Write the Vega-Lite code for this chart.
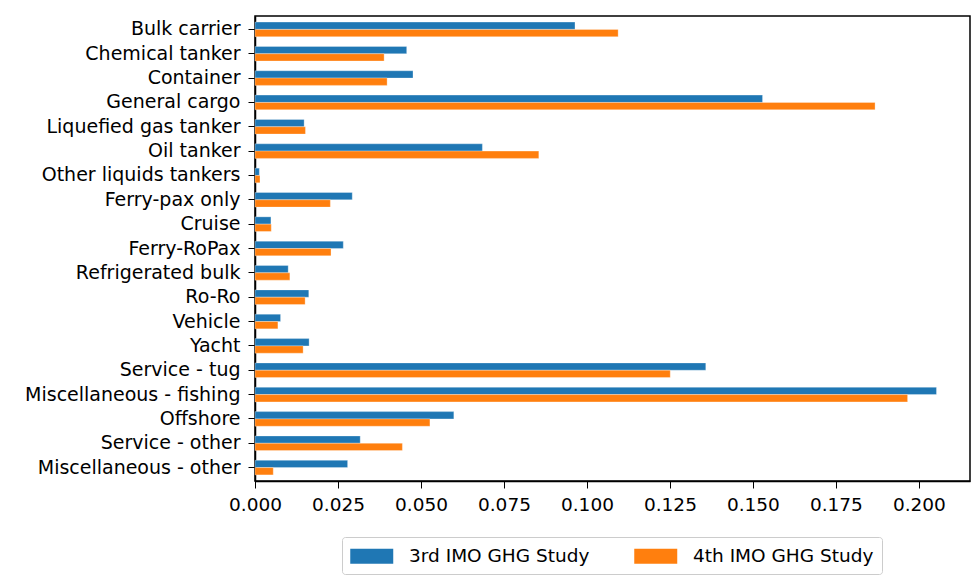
{
  "$schema": "https://vega.github.io/schema/vega-lite/v6.json",
  "autosize": {"type": "none"},
  "padding": {"left": 255, "top": 16, "right": 3, "bottom": 105},
  "width": 715,
  "height": 465,
  "background": "white",
  "data": {
    "values": [
      {"ship": "Bulk carrier", "study": "3rd IMO GHG Study", "value": 0.0964},
      {"ship": "Bulk carrier", "study": "4th IMO GHG Study", "value": 0.1094},
      {"ship": "Chemical tanker", "study": "3rd IMO GHG Study", "value": 0.0457},
      {"ship": "Chemical tanker", "study": "4th IMO GHG Study", "value": 0.0389},
      {"ship": "Container", "study": "3rd IMO GHG Study", "value": 0.0476},
      {"ship": "Container", "study": "4th IMO GHG Study", "value": 0.0398},
      {"ship": "General cargo", "study": "3rd IMO GHG Study", "value": 0.1529},
      {"ship": "General cargo", "study": "4th IMO GHG Study", "value": 0.1868},
      {"ship": "Liquefied gas tanker", "study": "3rd IMO GHG Study", "value": 0.0148},
      {"ship": "Liquefied gas tanker", "study": "4th IMO GHG Study", "value": 0.0152},
      {"ship": "Oil tanker", "study": "3rd IMO GHG Study", "value": 0.0685},
      {"ship": "Oil tanker", "study": "4th IMO GHG Study", "value": 0.0855},
      {"ship": "Other liquids tankers", "study": "3rd IMO GHG Study", "value": 0.0013},
      {"ship": "Other liquids tankers", "study": "4th IMO GHG Study", "value": 0.0015},
      {"ship": "Ferry-pax only", "study": "3rd IMO GHG Study", "value": 0.0293},
      {"ship": "Ferry-pax only", "study": "4th IMO GHG Study", "value": 0.0227},
      {"ship": "Cruise", "study": "3rd IMO GHG Study", "value": 0.0048},
      {"ship": "Cruise", "study": "4th IMO GHG Study", "value": 0.0049},
      {"ship": "Ferry-RoPax", "study": "3rd IMO GHG Study", "value": 0.0266},
      {"ship": "Ferry-RoPax", "study": "4th IMO GHG Study", "value": 0.0229},
      {"ship": "Refrigerated bulk", "study": "3rd IMO GHG Study", "value": 0.0100},
      {"ship": "Refrigerated bulk", "study": "4th IMO GHG Study", "value": 0.0105},
      {"ship": "Ro-Ro", "study": "3rd IMO GHG Study", "value": 0.0162},
      {"ship": "Ro-Ro", "study": "4th IMO GHG Study", "value": 0.0151},
      {"ship": "Vehicle", "study": "3rd IMO GHG Study", "value": 0.0077},
      {"ship": "Vehicle", "study": "4th IMO GHG Study", "value": 0.0069},
      {"ship": "Yacht", "study": "3rd IMO GHG Study", "value": 0.0163},
      {"ship": "Yacht", "study": "4th IMO GHG Study", "value": 0.0145},
      {"ship": "Service - tug", "study": "3rd IMO GHG Study", "value": 0.1358},
      {"ship": "Service - tug", "study": "4th IMO GHG Study", "value": 0.1251},
      {"ship": "Miscellaneous - fishing", "study": "3rd IMO GHG Study", "value": 0.2053},
      {"ship": "Miscellaneous - fishing", "study": "4th IMO GHG Study", "value": 0.1966},
      {"ship": "Offshore", "study": "3rd IMO GHG Study", "value": 0.0599},
      {"ship": "Offshore", "study": "4th IMO GHG Study", "value": 0.0527},
      {"ship": "Service - other", "study": "3rd IMO GHG Study", "value": 0.0317},
      {"ship": "Service - other", "study": "4th IMO GHG Study", "value": 0.0444},
      {"ship": "Miscellaneous - other", "study": "3rd IMO GHG Study", "value": 0.0279},
      {"ship": "Miscellaneous - other", "study": "4th IMO GHG Study", "value": 0.0055}
    ]
  },
  "mark": {"type": "bar", "stroke": "white", "strokeWidth": 0.5, "strokeOpacity": 0.6},
  "encoding": {
    "y": {
      "field": "ship",
      "type": "nominal",
      "sort": null,
      "scale": {"paddingInner": 0.4, "paddingOuter": 0.25},
      "axis": {
        "title": null,
        "labelFontSize": 19,
        "labelLimit": 0,
        "labelPadding": 8,
        "tickSize": 7,
        "tickColor": "black",
        "domainColor": "black",
        "domainWidth": 1.5,
        "labelColor": "black",
        "labelFont": "DejaVu Sans"
      }
    },
    "yOffset": {
      "field": "study",
      "type": "nominal",
      "scale": {"paddingInner": 0, "paddingOuter": 0}
    },
    "x": {
      "field": "value",
      "type": "quantitative",
      "scale": {"domain": [0, 0.2154], "nice": false, "zero": true},
      "axis": {
        "title": null,
        "values": [0, 0.025, 0.05, 0.075, 0.1, 0.125, 0.15, 0.175, 0.2],
        "format": ".3f",
        "grid": false,
        "labelFontSize": 18.5,
        "labelPadding": 7,
        "tickSize": 7,
        "tickColor": "black",
        "domainColor": "black",
        "domainWidth": 1.5,
        "labelColor": "black",
        "labelFont": "DejaVu Sans",
        "labelFlush": false
      }
    },
    "color": {
      "field": "study",
      "type": "nominal",
      "scale": {"range": ["#1f77b4", "#ff7f0e"]},
      "legend": {
        "title": null,
        "orient": "none",
        "legendX": 87,
        "legendY": 521,
        "direction": "horizontal",
        "symbolType": "M-1,-0.7H3V0.7H-1Z",
        "symbolSize": 462,
        "symbolStrokeWidth": 0,
        "labelFontSize": 18.5,
        "labelLimit": 0,
        "labelFont": "DejaVu Sans",
        "labelColor": "black",
        "labelOffset": 37,
        "columnPadding": 44,
        "padding": 8,
        "strokeColor": "#cccccc",
        "cornerRadius": 3,
        "fillColor": "white"
      }
    }
  },
  "config": {
    "view": {"stroke": "black", "strokeWidth": 1.5}
  }
}
